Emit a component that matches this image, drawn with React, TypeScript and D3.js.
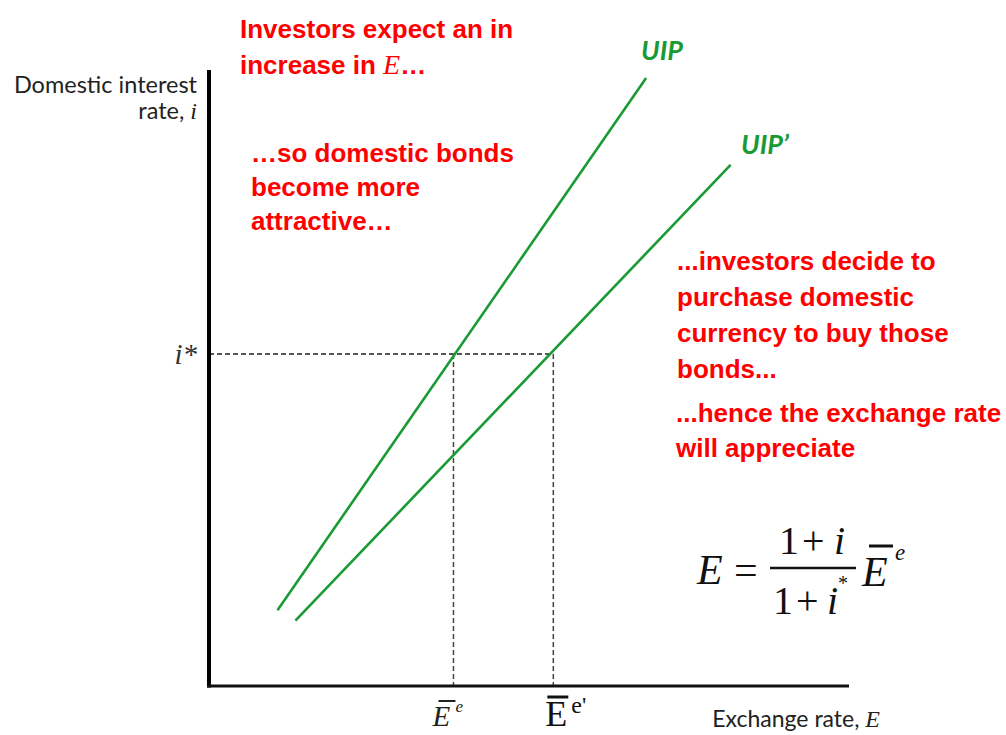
import React from "react";
import * as d3 from "d3";

const W = 1006;
const H = 735;

// abstract units: E on x (0..10), i on y (0..10)
const uipLine = [
  { E: 1.07, i: 1.23 },
  { E: 6.83, i: 9.87 },
];
const uipPrimeLine = [
  { E: 1.35, i: 1.06 },
  { E: 8.15, i: 8.46 },
];
const iStar = 5.39;
const Ee = 3.82;
const EePrime = 5.38;

const redTextTop = ["Investors expect an in", "increase in "];
const redTextMid = ["…so domestic bonds", "become more", "attractive…"];
const redTextRight = ["...investors decide to", "purchase domestic", "currency to buy those", "bonds..."];
const redTextRight2 = ["...hence the exchange rate", "will appreciate"];

export default function App() {
  const x = d3.scaleLinear().domain([0, 10]).range([209, 849]);
  const y = d3.scaleLinear().domain([0, 10]).range([686, 70]);
  const line = d3
    .line<{ E: number; i: number }>()
    .x((d) => x(d.E))
    .y((d) => y(d.i));

  const green = "#1a9a35";
  const red = "#ff0000";
  const redFont = "'Liberation Sans', Arial, sans-serif";
  const labelFont = "Lato, 'Open Sans', sans-serif";
  const serif = "'Liberation Serif', 'Times New Roman', serif";
  const redSize = 26;

  const x0 = x(0);
  const y0 = y(0);

  return (
    <svg width={W} height={H} style={{ position: "absolute", left: 0, top: 0, background: "#fff" }}>
      {/* dashed guides */}
      <path
        d={`M${x0},${y(iStar)}H${x(EePrime)}`}
        stroke="#555"
        strokeWidth={2}
        strokeDasharray="5,3"
        fill="none"
      />
      <path d={`M${x(Ee)},${y(iStar)}V${y0}`} stroke="#444" strokeWidth={1.5} strokeDasharray="5,3" fill="none" />
      <path d={`M${x(EePrime)},${y(iStar)}V${y0}`} stroke="#444" strokeWidth={1.5} strokeDasharray="5,3" fill="none" />

      {/* curves */}
      <path d={line(uipLine) || ""} stroke={green} strokeWidth={2.6} fill="none" />
      <path d={line(uipPrimeLine) || ""} stroke={green} strokeWidth={2.6} fill="none" />

      {/* axes */}
      <line x1={x0} y1={y(10)} x2={x0} y2={y0 + 1.5} stroke="#000" strokeWidth={4} />
      <line x1={x0 - 2} y1={y0} x2={x(10)} y2={y0} stroke="#111" strokeWidth={3} />

      {/* axis labels */}
      <text x={197} y={93} textAnchor="end" fontFamily={labelFont} fontSize={23.5} fill="#222">
        Domestic interest
      </text>
      <text x={197} y={119} textAnchor="end" fontFamily={labelFont} fontSize={23.5} fill="#222">
        rate, <tspan fontFamily={serif} fontStyle="italic" fontSize={24}>i</tspan>
      </text>
      <text x={197} y={364} textAnchor="end" fontFamily={serif} fontStyle="italic" fontSize={29} fill="#333">
        i*
      </text>
      <text x={880} y={727} textAnchor="end" fontFamily={labelFont} fontSize={23} fill="#222">
        Exchange rate, <tspan fontFamily={serif} fontStyle="italic" fontSize={24}>E</tspan>
      </text>

      {/* tick labels */}
      <g>
        <text x={x(Ee) - 21} y={726} fontFamily={serif} fontStyle="italic" fontSize={29} fill="#222">
          E
        </text>
        <line x1={x(Ee) - 15} y1={701} x2={x(Ee) + 2} y2={701} stroke="#222" strokeWidth={2} />
        <text x={x(Ee) + 2} y={712} fontFamily={serif} fontStyle="italic" fontSize={17} fill="#222">
          e
        </text>
      </g>
      <g>
        <text x={x(EePrime) - 8} y={726} fontFamily={serif} fontSize={36} fill="#111">
          E
        </text>
        <line x1={x(EePrime) - 6} y1={697} x2={x(EePrime) + 15} y2={697} stroke="#111" strokeWidth={3} />
        <text x={x(EePrime) + 18} y={713} fontFamily={serif} fontSize={24} fill="#111">
          e'
        </text>
      </g>

      {/* curve labels */}
      <text x={641} y={60} fontFamily={labelFont} fontWeight="bold" fontStyle="italic" fontSize={27} fill={green}>
        UIP
      </text>
      <text x={741} y={154} fontFamily={labelFont} fontWeight="bold" fontStyle="italic" fontSize={27} fill={green}>
        UIP’
      </text>

      {/* red annotations */}
      <text fontFamily={redFont} fontWeight="bold" fontSize={redSize} fill={red}>
        <tspan x={240} y={38}>{redTextTop[0]}</tspan>
        <tspan x={240} y={74}>
          {redTextTop[1]}
          <tspan fontFamily={serif} fontStyle="italic" fontWeight="normal" fontSize={28}>E</tspan>…
        </tspan>
      </text>
      <text fontFamily={redFont} fontWeight="bold" fontSize={redSize} fill={red}>
        {redTextMid.map((t, k) => (
          <tspan key={k} x={251} y={162 + k * 34}>
            {t}
          </tspan>
        ))}
      </text>
      <text fontFamily={redFont} fontWeight="bold" fontSize={redSize} fill={red}>
        {redTextRight.map((t, k) => (
          <tspan key={k} x={677} y={270 + k * 36}>
            {t}
          </tspan>
        ))}
      </text>
      <text fontFamily={redFont} fontWeight="bold" fontSize={redSize} fill={red}>
        {redTextRight2.map((t, k) => (
          <tspan key={k} x={676} y={422 + k * 35}>
            {t}
          </tspan>
        ))}
      </text>

      {/* formula */}
      <g fontFamily={serif} fill="#111">
        <text x={697} y={584} fontSize={42} fontStyle="italic">E</text>
        <text x={734} y={584} fontSize={42}>=</text>
        <text x={779} y={554} fontSize={40}>1</text>
        <text x={802} y={554} fontSize={40}>+</text>
        <text x={834} y={554} fontSize={40} fontStyle="italic">i</text>
        <line x1={770} y1={568} x2={856} y2={568} stroke="#111" strokeWidth={2.5} />
        <text x={773} y={614} fontSize={40}>1</text>
        <text x={796} y={614} fontSize={40}>+</text>
        <text x={827} y={614} fontSize={40} fontStyle="italic">i</text>
        <text x={838} y={590} fontSize={20}>*</text>
        <text x={862} y={586} fontSize={42} fontStyle="italic">E</text>
        <line x1={869} y1={546} x2={893} y2={546} stroke="#111" strokeWidth={3} />
        <text x={895} y={560} fontSize={23} fontStyle="italic">e</text>
      </g>
    </svg>
  );
}
